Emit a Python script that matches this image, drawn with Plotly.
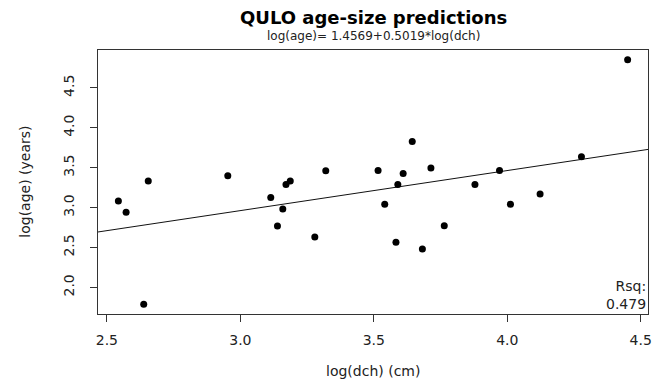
import plotly.graph_objects as go

# data (log scale values)
log_dch = [2.543, 2.572, 2.655, 2.638, 2.953, 3.114, 3.171, 3.187, 3.159, 3.139,
           3.279, 3.320, 4.451, 3.644, 3.516, 3.610, 3.714, 3.590, 3.541, 3.583,
           3.682, 3.764, 3.879, 3.971, 4.012, 4.123, 4.278]
log_age = [3.084, 2.942, 3.332, 1.790, 3.398, 3.126, 3.289, 3.332, 2.984, 2.770,
           2.632, 3.461, 4.852, 3.829, 3.465, 3.427, 3.495, 3.289, 3.043, 2.565,
           2.481, 2.774, 3.289, 3.465, 3.043, 3.172, 3.637]
intercept = 1.4569
slope = 0.5019
rsq = 0.479
x_ticks = [2.5, 3.0, 3.5, 4.0, 4.5]
y_ticks = [2.0, 2.5, 3.0, 3.5, 4.0, 4.5]

def r_range(v):
    lo, hi = min(v), max(v)
    pad = 0.04 * (hi - lo)
    return [lo - pad, hi + pad]

xr = r_range(log_dch)
yr = r_range(log_age)

FONT = "DejaVu Sans"
fig = go.Figure()
fig.add_trace(go.Scatter(
    x=xr, y=[intercept + slope * v for v in xr], mode="lines",
    line=dict(color="#111111", width=1), hoverinfo="skip", showlegend=False))
fig.add_trace(go.Scatter(
    x=log_dch, y=log_age, mode="markers",
    marker=dict(color="black", size=7, line=dict(width=0)), showlegend=False))

axis_common = dict(showline=True, mirror=True, linecolor="#333333", linewidth=1,
                   ticks="outside", ticklen=7, tickcolor="#333333", showgrid=False,
                   zeroline=False, tickfont=dict(family=FONT, size=14, color="#222222"))
fig.update_xaxes(range=xr, tickvals=x_ticks, ticktext=[f"{t:.1f}" for t in x_ticks],
                 ticklabelstandoff=6, **axis_common)
fig.update_yaxes(range=yr, tickvals=y_ticks, ticktext=[f"{t:.1f}" for t in y_ticks],
                 tickangle=-90, ticklabelstandoff=10, **axis_common)

fig.update_layout(
    width=658, height=384, margin=dict(l=98, r=6, t=50, b=70),
    plot_bgcolor="white", paper_bgcolor="white",
    annotations=[
        dict(text="<b>QULO age-size predictions</b>", xref="paper", yref="paper",
             x=0.5, y=1.125, xanchor="center", yanchor="middle", showarrow=False,
             font=dict(family=FONT, size=18, color="black")),
        dict(text=f"log(age)= {intercept}+{slope}*log(dch)", xref="paper", yref="paper",
             x=0.5, y=1.053, xanchor="center", yanchor="middle", showarrow=False,
             font=dict(family=FONT, size=12, color="#222222")),
        dict(text="log(dch) (cm)", xref="paper", yref="paper", x=0.5, y=-0.216,
             xanchor="center", yanchor="middle", showarrow=False,
             font=dict(family=FONT, size=14, color="#222222")),
        dict(text="log(age) (years)", xref="paper", yref="paper", x=-0.1333, y=0.5,
             xanchor="center", yanchor="middle", textangle=-90, showarrow=False,
             font=dict(family=FONT, size=14, color="#222222")),
        dict(text=f"Rsq:<br>{rsq}", xref="paper", yref="paper", x=1, y=0,
             xanchor="right", yanchor="bottom", align="right", showarrow=False,
             font=dict(family=FONT, size=14, color="#222222")),
    ],
)
fig.write_html("out.html")
